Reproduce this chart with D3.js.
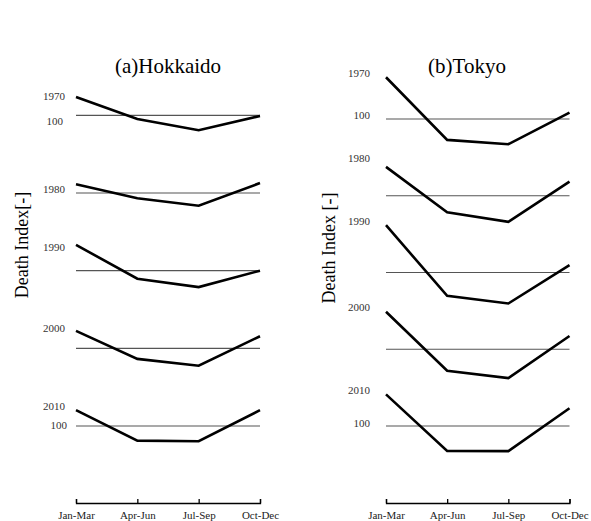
<!DOCTYPE html>
<html>
<head>
<meta charset="utf-8">
<script src="https://cdn.jsdelivr.net/npm/d3@7"></script>
<style>
  html, body { margin: 0; padding: 0; background: #fff; }
  svg { display: block; }
</style>
</head>
<body>
<svg id="chart" width="591" height="521"></svg>
<script>
// Quarterly death index (100 = annual mean), one row per decade
const quarters = ["Jan-Mar", "Apr-Jun", "Jul-Sep", "Oct-Dec"];
const decades = ["1970", "1980", "1990", "2000", "2010"];
const baseLabel = "100";

const hokkaido = [
  [105.9, 98.8, 95.2, 99.8],
  [102.8, 98.3, 95.9, 103.2],
  [108.3, 97.4, 94.7, 100.0],
  [105.6, 96.6, 94.4, 103.9],
  [105.1, 95.3, 95.1, 105.1]
];

const tokyo = [
  [113.6, 93.2, 91.8, 102.1],
  [109.4, 94.6, 91.5, 104.6],
  [115.4, 92.4, 89.9, 102.4],
  [112.2, 93.0, 90.6, 104.3],
  [110.3, 91.9, 91.8, 105.8]
];

// each decade is lifted by this many index points above the next one
const decadeOffset = 25;
const baseValue = 100;

const FONT = "'Liberation Serif', 'Times New Roman', Tinos, serif";
const svg = d3.select("#chart");

const panels = [
  { title: "(a)Hokkaido", data: hokkaido, yTitle: "Death Index[-]",
    x0: 76, x1: 260, yTop: 115.3, yBottom: 426,
    titleX: 168, yTitleX: 28, yTitleY: 245, labelX: 65,
    decNudge: [-1, 5, 2, -3, -4], baseNudge: [6, -1], baseX: [63, 67] },
  { title: "(b)Tokyo", data: tokyo, yTitle: "Death Index [-]",
    x0: 386, x1: 569.5, yTop: 119, yBottom: 426,
    titleX: 467, yTitleX: 335, yTitleY: 248, labelX: 370,
    decNudge: [-4, -9, -4, -5, -4], baseNudge: [-4, -3], baseX: [370, 370] }
];

const nDec = decades.length;
const stacked = (v, i) => v + decadeOffset * (nDec - 1 - i);

panels.forEach(p => {
  const g = svg.append("g");

  const x = d3.scalePoint().domain(quarters).range([p.x0, p.x1]);
  const y = d3.scaleLinear()
    .domain([baseValue, baseValue + decadeOffset * (nDec - 1)])
    .range([p.yBottom, p.yTop]);

  // panel title
  g.append("text")
    .attr("x", p.titleX).attr("y", 73)
    .attr("text-anchor", "middle")
    .style("font-family", FONT)
    .style("font-size", "21px")
    .attr("fill", "#000")
    .text(p.title);

  // y-axis title
  g.append("text")
    .attr("transform", `translate(${p.yTitleX},${p.yTitleY}) rotate(-90)`)
    .attr("text-anchor", "middle")
    .style("font-family", FONT)
    .style("font-size", "18px")
    .attr("fill", "#000")
    .text(p.yTitle);

  // 100 reference line for each decade
  g.selectAll("line.ref").data(decades).join("line")
    .attr("class", "ref")
    .attr("x1", p.x0).attr("x2", p.x1)
    .attr("y1", (d, i) => y(stacked(baseValue, i)))
    .attr("y2", (d, i) => y(stacked(baseValue, i)))
    .attr("stroke", "#555").attr("stroke-width", 1.2);

  // decade series
  const line = d3.line()
    .x((d, j) => x(quarters[j]))
    .y(d => y(d.s));
  g.selectAll("path.series").data(p.data).join("path")
    .attr("class", "series")
    .attr("d", (row, i) => line(row.map(v => ({ s: stacked(v, i) }))))
    .attr("fill", "none")
    .attr("stroke", "#000")
    .attr("stroke-width", 2.6)
    .attr("stroke-linejoin", "miter");

  // decade labels beside the first quarter
  g.selectAll("text.dec").data(decades).join("text")
    .attr("class", "dec")
    .attr("x", p.labelX)
    .attr("y", (d, i) => y(stacked(p.data[i][0], i)) + p.decNudge[i])
    .attr("dy", "0.35em")
    .attr("text-anchor", "end")
    .style("font-family", FONT)
    .style("font-size", "11px")
    .attr("fill", "#333")
    .text(d => d);

  // "100" on the first and last reference lines
  [0, nDec - 1].forEach((i, k) => {
    g.append("text")
      .attr("x", p.baseX[k])
      .attr("y", y(stacked(baseValue, i)) + p.baseNudge[k])
      .attr("dy", "0.35em")
      .attr("text-anchor", "end")
      .style("font-family", FONT)
      .style("font-size", "11px")
      .attr("fill", "#333")
      .text(baseLabel);
  });

  // quarter axis
  const ax = g.append("g")
    .attr("transform", "translate(0,503)")
    .call(d3.axisBottom(x).tickSize(-4).tickPadding(8));
  ax.selectAll("path, line").attr("stroke", "#000").attr("stroke-width", 1.3);
  ax.selectAll("text")
    .style("font-family", FONT)
    .style("font-size", "11px")
    .attr("fill", "#222");
});
</script>
</body>
</html>
